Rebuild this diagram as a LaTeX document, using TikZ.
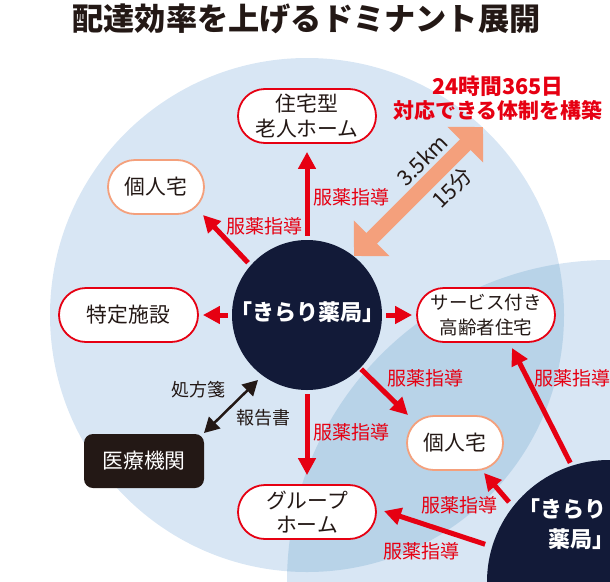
\documentclass[tikz,border=0pt]{standalone}
\usepackage{fontspec}
\usetikzlibrary{arrows.meta}
\setmainfont{Noto Sans CJK JP}
\definecolor{pale}{HTML}{D8E6F4}
\definecolor{mid}{HTML}{B8D3E8}
\definecolor{navy}{HTML}{121A38}
\definecolor{ink}{HTML}{231815}
\definecolor{jred}{HTML}{E60012}
\definecolor{peach}{HTML}{F4A07C}
\tikzset{
  x=1pt,y=-1pt,
  fs/.style={font=\fontsize{#1}{#1}\selectfont},
  place/.style={draw=jred,line width=1.8pt,fill=white,rounded corners=27pt,minimum height=54pt,text=ink,inner sep=0pt,align=center,font=\fontsize{20.8}{24.5}\selectfont},
  redbox/.style={place},
  peachbox/.style={place,draw=peach,minimum width=96pt},
  redarrow/.style={draw=jred,line width=5pt,-{Triangle[length=17pt,width=17pt]}},
  lbl/.style={text=jred,fs=19,inner sep=0pt},
  blk/.style={text=ink,fs=18,inner sep=0pt},
}
\begin{document}
\begin{tikzpicture}
\useasboundingbox (0,0) rectangle (610,581);
\begin{scope}
\clip (0,0) rectangle (610,581);
\fill[pale] (307,315) circle[radius=257];
\fill[pale] (609,582) circle[radius=322];
\begin{scope}
\clip (307,315) circle[radius=257];
\fill[mid] (609,582) circle[radius=322];
\end{scope}
\node[circle,fill=navy,minimum size=150pt,inner sep=0pt] (hub) at (307,315) {};
\node[circle,fill=navy,minimum size=244pt,inner sep=0pt] (hubb) at (609,582) {};
\node[text=white,font=\fontsize{22}{30}\selectfont\bfseries,inner sep=0pt,align=left,anchor=north west] (hubbt) at (518,498) {「きらり\\\hspace*{30pt}薬局\rlap{」}};
\end{scope}
\node[text=ink,font=\fontsize{31.2}{31.2}\selectfont\bfseries,inner sep=0pt] (title) at (306.5,19) {配達効率を上げるドミナント展開};
\node[redbox,minimum width=138pt] (jutaku) at (307,116) {住宅型\\老人ホーム};
\node[peachbox] (kojina) at (156,187) {個人宅};
\node[redbox,minimum width=139pt] (tokutei) at (128.5,315) {特定施設};
\node[redbox,minimum width=138pt,font=\fontsize{18.5}{24.5}\selectfont] (sabisu) at (486,315) {サービス付き\\高齢者住宅};
\node[peachbox] (kojinb) at (455,443) {個人宅};
\node[redbox,minimum width=138pt] (group) at (307,512) {グループ\\ホーム};
\node[fill=ink,rounded corners=9pt,minimum width=120pt,minimum height=54pt,text=white,inner sep=0pt,fs=20.8] (iryo) at (144,461) {医療機関};
\node[text=white,font=\fontsize{22}{22}\selectfont\bfseries,inner sep=0pt] (hubt) at (307,312) {「きらり薬局」};
\node[text=jred,font=\fontsize{20.9}{24}\selectfont\bfseries,inner sep=0pt,align=center] (slogan) at (498,98) {{\fontsize{21.7}{24}\selectfont 24時間365日}\\対応できる体制を構築};
\coordinate (pa) at (483,127);
\coordinate (pb) at (354,256);
\draw[peach,line width=15pt,{Triangle[length=25pt,width=49pt]}-{Triangle[length=25pt,width=49pt]}] (pb) -- (pa);
\node[blk,rotate=45,fs=21.5] (km) at (422,160) {3.5km};
\node[blk,rotate=45,fs=21.5] (min) at (452,188) {15分};
\draw[redarrow,shorten <=4pt,shorten >=8pt] (hub) -- (jutaku);
\coordinate (te) at (203,215);
\draw[redarrow] (hub.137) ++(-4,-1) -- (te);
\draw[redarrow,shorten <=4pt,shorten >=4pt] (hub) -- (tokutei);
\draw[redarrow,shorten <=4pt,shorten >=4pt] (hub) -- (sabisu);
\draw[redarrow,shorten <=4pt,shorten >=9pt] (hub) -- (group);
\coordinate (ta) at (408,415);
\coordinate (tb) at (512,348);
\coordinate (tc) at (484,473);
\coordinate (td) at (384,511);
\draw[redarrow] (hub.-45) ++(1,1) -- (ta);
\draw[redarrow] (hubb.108.3) ++(-1,-3) -- (tb);
\draw[redarrow] (hubb.141) ++(-5,-3) -- (tc);
\draw[redarrow] (hubb.163) ++(-7,-2) -- (td);
\coordinate (ma) at (258,380);
\coordinate (mb) at (204,433);
\draw[ink,line width=2.5pt,{Triangle[length=15pt,width=16pt]}-{Triangle[length=15pt,width=16pt]}] (mb) -- (ma);
\node[lbl] (l1) at (351,197) {服薬指導};
\node[lbl] (l2) at (264,226) {服薬指導};
\node[lbl] (l3) at (425,378) {服薬指導};
\node[lbl] (l4) at (351,432) {服薬指導};
\node[lbl] (l5) at (572,378) {服薬指導};
\node[lbl] (l6) at (459,505) {服薬指導};
\node[lbl] (l7) at (421,551) {服薬指導};
\node[blk] (rx) at (198,390) {処方箋};
\node[blk] (rp) at (263,418) {報告書};
\end{tikzpicture}
\end{document}
